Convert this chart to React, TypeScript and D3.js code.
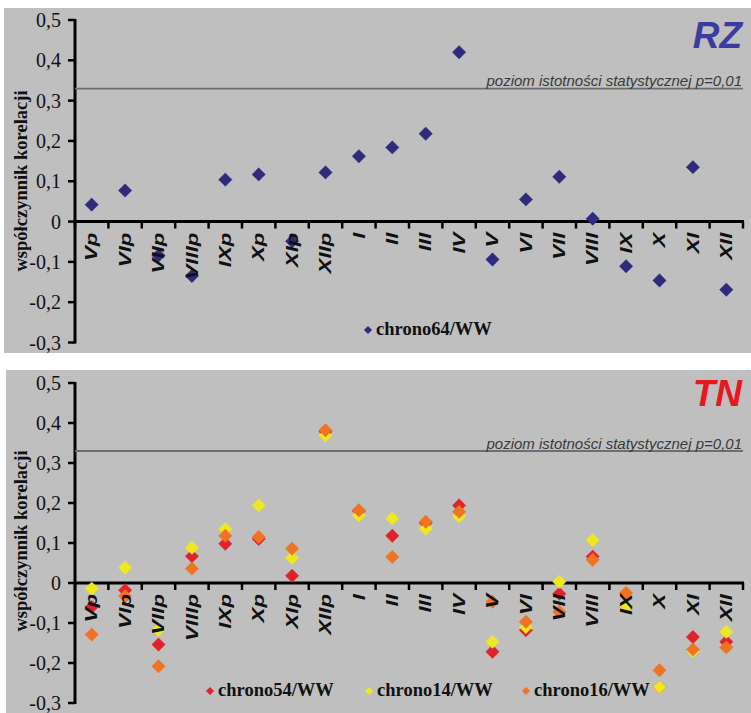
import React, { useEffect, useRef } from "react";
import * as d3 from "d3";

// months: "p" = previous year
const categories = ["Vp", "VIp", "VIIp", "VIIIp", "IXp", "Xp", "XIp", "XIIp", "I", "II", "III", "IV", "V", "VI", "VII", "VIII", "IX", "X", "XI", "XII"];

const chrono64 = [0.042, 0.077, -0.084, -0.135, 0.104, 0.117, -0.049, 0.122, 0.162, 0.184, 0.218, 0.42, -0.094, 0.055, 0.111, 0.007, -0.111, -0.146, 0.135, -0.169];

const chrono54 = [-0.06, -0.018, -0.154, 0.067, 0.098, 0.11, 0.018, 0.378, 0.18, 0.118, 0.15, 0.194, -0.172, -0.118, -0.027, 0.066, -0.06, -0.26, -0.135, -0.147];
const chrono14 = [-0.014, 0.038, -0.117, 0.088, 0.135, 0.194, 0.063, 0.369, 0.169, 0.161, 0.136, 0.167, -0.147, -0.11, 0.003, 0.107, -0.06, -0.26, -0.17, -0.122];
const chrono16 = [-0.129, -0.033, -0.208, 0.036, 0.118, 0.115, 0.086, 0.382, 0.182, 0.065, 0.153, 0.178, -0.047, -0.097, -0.072, 0.058, -0.025, -0.218, -0.166, -0.161];

const yTicks = [0.5, 0.4, 0.3, 0.2, 0.1, 0, -0.1, -0.2, -0.3];
const yTickLabels = ["0,5", "0,4", "0,3", "0,2", "0,1", "0", "-0,1", "-0,2", "-0,3"];
const threshold = 0.33;
const thresholdLabel = "poziom istotności statystycznej p=0,01";
const yTitle = "współczynnik korelacji";

const W = 751, H = 713;
const serif = "'Liberation Serif', 'Times New Roman', serif";
const sans = "'Liberation Sans', Arial, sans-serif";

const drawPanel = (svg, p) => {
  const g = svg.append("g");

  g.append("rect")
    .attr("x", p.bg[0]).attr("y", p.bg[1])
    .attr("width", p.bg[2]).attr("height", p.bg[3])
    .attr("fill", "#bfbfbf");

  const x = d3.scaleBand().domain(categories).range([75, 743]);
  const y = d3.scaleLinear().domain([-0.3, 0.5]).range(p.yRange);

  // y axis
  g.append("line")
    .attr("x1", 75).attr("x2", 75)
    .attr("y1", y(0.5) - 1).attr("y2", y(-0.3) + 1)
    .attr("stroke", "#000").attr("stroke-width", 3);

  yTicks.forEach((t, i) => {
    g.append("line")
      .attr("x1", 68).attr("x2", 75)
      .attr("y1", y(t)).attr("y2", y(t))
      .attr("stroke", "#000").attr("stroke-width", 2.5);
    g.append("text")
      .attr("x", 61).attr("y", y(t))
      .attr("dy", "0.35em")
      .attr("text-anchor", "end")
      .style("font-family", serif)
      .style("font-size", "20px")
      .attr("fill", "#111")
      .text(yTickLabels[i]);
  });

  g.append("text")
    .attr("transform", `translate(27,${p.titleY}) rotate(-90)`)
    .attr("text-anchor", "middle")
    .style("font-family", serif)
    .style("font-size", "18.5px")
    .style("font-weight", "bold")
    .attr("fill", "#111")
    .text(yTitle);

  // significance level
  g.append("line")
    .attr("x1", 75).attr("x2", 743)
    .attr("y1", y(threshold)).attr("y2", y(threshold))
    .attr("stroke", "#6e6e6e").attr("stroke-width", 1.8);
  g.append("text")
    .attr("x", 742).attr("y", y(threshold) - 2.5)
    .attr("text-anchor", "end")
    .style("font-family", sans)
    .style("font-size", "15px")
    .style("font-style", "italic")
    .attr("fill", "#3a3a3a")
    .text(thresholdLabel);

  g.append("text")
    .attr("x", 742).attr("y", p.codeY)
    .attr("text-anchor", "end")
    .style("font-family", sans)
    .style("font-size", "37px")
    .style("font-weight", "bold")
    .style("font-style", "italic")
    .attr("fill", p.codeColor)
    .text(p.code);

  // x axis
  const y0 = y(0);
  g.append("line")
    .attr("x1", 75).attr("x2", 744)
    .attr("y1", y0).attr("y2", y0)
    .attr("stroke", "#000").attr("stroke-width", 3);
  d3.range(categories.length + 1).forEach((i) => {
    const bx = x.range()[0] + i * x.step();
    g.append("line")
      .attr("x1", bx).attr("x2", bx)
      .attr("y1", y0).attr("y2", y0 + 7)
      .attr("stroke", "#000").attr("stroke-width", 2.5);
  });

  const diamond = d3.symbol().type(d3.symbolSquare).size(90)();
  const small = d3.symbol().type(d3.symbolSquare).size(34)();

  p.series.forEach((s) => {
    g.append("g")
      .selectAll("path")
      .data(s.values)
      .enter()
      .append("path")
      .attr("d", diamond)
      .attr("transform", (d, i) => `translate(${x(categories[i]) + x.bandwidth() / 2},${y(d)}) rotate(45)`)
      .attr("fill", s.color)
      .attr("stroke", s.color)
      .attr("stroke-width", 0.8)
      .attr("stroke-opacity", 0.5);
  });

  // month labels are drawn over the markers
  g.append("g")
    .selectAll("text")
    .data(categories)
    .enter()
    .append("text")
    .attr("transform", (d) => `translate(${x(d) + x.bandwidth() / 2},${y0 + 11}) rotate(-90) scale(1.35,1)`)
    .attr("text-anchor", "end")
    .attr("dy", "0.35em")
    .style("font-family", sans)
    .style("font-size", "16.5px")
    .style("font-weight", "bold")
    .style("font-style", "italic")
    .attr("fill", "#111")
    .text((d) => d);

  // legend
  p.series.forEach((s) => {
    const [lx, ly] = s.legend;
    g.append("path")
      .attr("d", small)
      .attr("transform", `translate(${lx},${ly}) rotate(45)`)
      .attr("fill", s.color);
    g.append("text")
      .attr("x", lx + 8).attr("y", ly + 5)
      .style("font-family", serif)
      .style("font-size", "18.5px")
      .style("font-weight", "bold")
      .attr("fill", "#111")
      .text(s.name);
  });
};

export default function App() {
  const divRef = useRef(null);

  useEffect(() => {
    d3.select(divRef.current).selectAll("svg").remove();
    const svg = d3
      .select(divRef.current)
      .append("svg")
      .attr("width", W)
      .attr("height", H)
      .style("display", "block");

    svg.append("rect").attr("width", W).attr("height", H).attr("fill", "#fff");

    drawPanel(svg, {
      bg: [4, 8, 747, 345],
      yRange: [342.5, 20],
      titleY: 181,
      code: "RZ",
      codeY: 48,
      codeColor: "#3c3ca0",
      series: [{ name: "chrono64/WW", values: chrono64, color: "#2f2a7c", legend: [368, 330] }],
    });

    drawPanel(svg, {
      bg: [6, 370, 745, 343],
      yRange: [703, 383],
      titleY: 541,
      code: "TN",
      codeY: 406,
      codeColor: "#e8161e",
      series: [
        { name: "chrono54/WW", values: chrono54, color: "#e2222a", legend: [210, 691] },
        { name: "chrono14/WW", values: chrono14, color: "#f0e81e", legend: [369, 691] },
        { name: "chrono16/WW", values: chrono16, color: "#ef7322", legend: [526, 691] },
      ],
    });
  }, []);

  return <div ref={divRef} style={{ position: "absolute", left: 0, top: 0 }}></div>;
}
